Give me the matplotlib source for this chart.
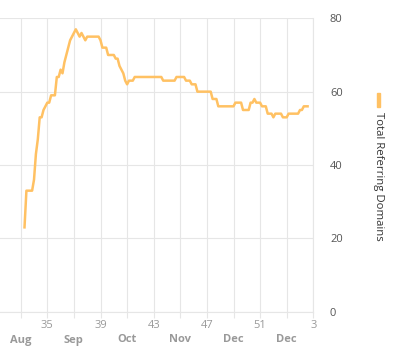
import matplotlib
matplotlib.use("Agg")
import matplotlib.pyplot as plt
import matplotlib.transforms as mtransforms
import pandas as pd
import numpy as np

plt.rcParams['font.family'] = ['Open Sans', 'DejaVu Sans']

# ---- data ----
start_date = "2019-08-14"
total_referring_domains = [
    23, 33, 33, 33, 33, 36, 43, 47, 53, 53,
    55, 56, 57, 57, 59, 59, 59, 64, 64, 66,
    65, 68, 70, 72, 74, 75, 76, 77, 76, 75,
    76, 75, 74, 75, 75, 75, 75, 75, 75, 75,
    74, 72, 72, 72, 70, 70, 70, 70, 69, 69,
    67, 66, 65, 63, 62, 63, 63, 63, 64, 64,
    64, 64, 64, 64, 64, 64, 64, 64, 64, 64,
    64, 64, 64, 63, 63, 63, 63, 63, 63, 63,
    64, 64, 64, 64, 64, 63, 63, 63, 62, 62,
    62, 60, 60, 60, 60, 60, 60, 60, 60, 58,
    58, 58, 56, 56, 56, 56, 56, 56, 56, 56,
    56, 57, 57, 57, 57, 55, 55, 55, 55, 57,
    57, 58, 57, 57, 57, 56, 56, 56, 54, 54,
    54, 53, 54, 54, 54, 54, 53, 53, 53, 54,
    54, 54, 54, 54, 54, 55, 55, 56, 56, 56,
]
series_name = "Total Referring Domains"
grid_week_starts = pd.date_range("2019-08-12", "2020-01-13", freq="14D")
week_labels = ["", "35", "", "39", "", "43", "", "47", "", "51", "", "3"]
month_labels = ["Aug", "", "Sep", "", "Oct", "", "Nov", "", "Dec", "", "Dec", ""]
y_ticks = [0, 20, 40, 60, 80]

dates = pd.date_range(start_date, periods=len(total_referring_domains), freq="D")

W, H = 403, 356
fig = plt.figure(figsize=(W / 100, H / 100), dpi=100)
ax = fig.add_axes([0.0, 1 - 311.7 / H, 313.3 / W, (311.7 - 18.3) / H])

line_color = "#FFC163"
ax.plot(dates, total_referring_domains, color=line_color, lw=1.8,
        solid_joinstyle="round", zorder=3)

ax.set_ylim(0, 80)
x_left = pd.Timestamp("2019-08-12") - pd.Timedelta(days=10.9)
ax.set_xlim(x_left, pd.Timestamp("2020-01-13"))

grid_c = "#E6E6E6"
ax.set_xticks(grid_week_starts)
ax.set_xticklabels([])
ax.set_yticks(y_ticks)
ax.grid(True, color=grid_c, lw=0.8)
ax.set_axisbelow(True)

for s in ["top", "left"]:
    ax.spines[s].set_visible(False)
ax.spines["right"].set_color(grid_c)
ax.spines["right"].set_linewidth(0.8)
ax.spines["bottom"].set_color(grid_c)
ax.spines["bottom"].set_linewidth(0.8)

ax.yaxis.tick_right()
ax.tick_params(axis="y", length=0, pad=12, labelsize=8, labelcolor="#555555")
ax.tick_params(axis="x", length=4, width=0.8, color=grid_c, direction="out")
for lbl in ax.get_yticklabels():
    lbl.set_horizontalalignment("left")

trans = mtransforms.blended_transform_factory(ax.transData, fig.transFigure)
for d, wl, ml in zip(grid_week_starts, week_labels, month_labels):
    if wl:
        ax.text(d, 1 - 325 / H, wl, transform=trans, ha="center", va="center",
                fontsize=8, color="#999999")
    if ml:
        ax.text(d, 1 - 340 / H, ml, transform=trans, ha="center", va="center",
                fontsize=8, color="#999999", fontweight="bold")

# legend
fig.patches.append(plt.Rectangle((376.7 / W, 1 - 106.5 / H), 3.5 / W, 13 / H,
                                 transform=fig.transFigure, color=line_color))
fig.text(378.5 / W, 1 - 112 / H, series_name, rotation=-90, ha="center", va="top",
         fontsize=8.2, color="#333333")

fig.savefig("out.png", dpi=100)
